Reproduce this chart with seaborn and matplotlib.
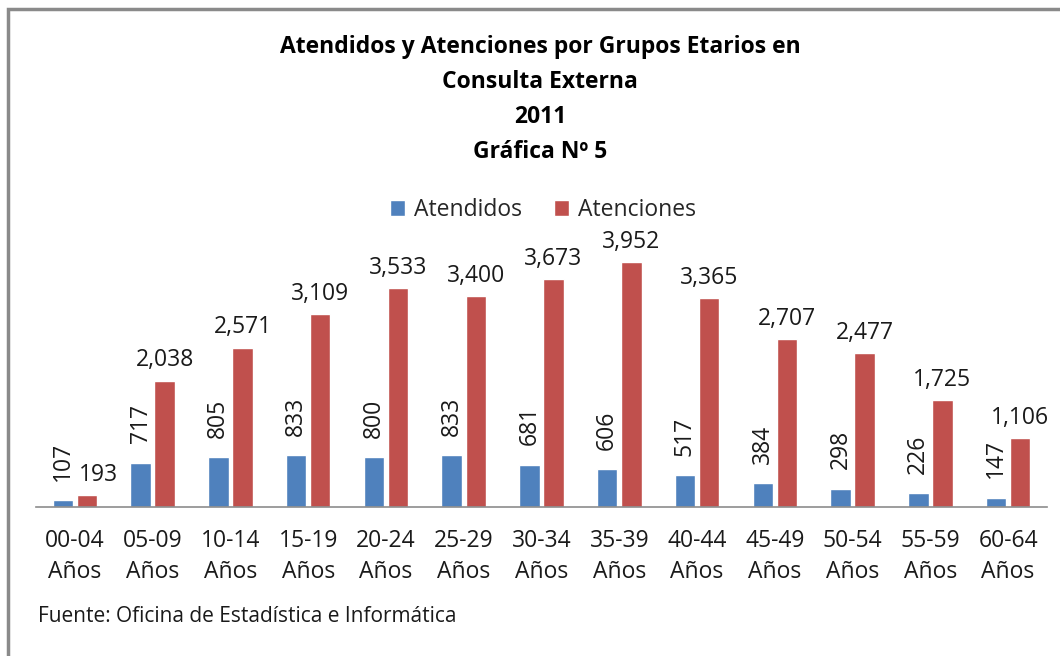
import pandas as pd
import numpy as np
import matplotlib.pyplot as plt
import seaborn as sns
from matplotlib.patches import Rectangle

# data
grupos = ['00-04\nAños', '05-09\nAños', '10-14\nAños', '15-19\nAños', '20-24\nAños',
          '25-29\nAños', '30-34\nAños', '35-39\nAños', '40-44\nAños', '45-49\nAños',
          '50-54\nAños', '55-59\nAños', '60-64\nAños']
atendidos = [107, 717, 805, 833, 800, 833, 681, 606, 517, 384, 298, 226, 147]
atenciones = [193, 2038, 2571, 3109, 3533, 3400, 3673, 3952, 3365, 2707, 2477, 1725, 1106]
series = ['Atendidos', 'Atenciones']
colores = ['#4F81BD', '#C0504D']

df = pd.DataFrame({
	'grupo': grupos * 2,
	'valor': atendidos + atenciones,
	'serie': [series[0]] * len(grupos) + [series[1]] * len(grupos),
})

sns.set_theme(style='white')
plt.rcParams['font.family'] = ['Open Sans', 'DejaVu Sans']

W, H = 1060, 656
fig = plt.figure(figsize=(W / 100, H / 100), dpi=100)
ax = fig.add_axes([36 / W, 1 - 507 / H, (1047 - 36) / W, (507 - 228) / H])

sns.barplot(data=df, x='grupo', y='valor', hue='serie', palette=colores,
			width=0.62, gap=0.15, ax=ax, legend=True, saturation=1)

ax.set_ylim(0, 4500)
ax.set_xlim(-0.5, len(grupos) - 0.5)
ax.set_xlabel('')
ax.set_ylabel('')
ax.set_yticks([])
for s in ['top', 'right', 'left']:
	ax.spines[s].set_visible(False)
ax.spines['bottom'].set_color('#8c8c8c')
ax.spines['bottom'].set_linewidth(1.2)
ax.tick_params(axis='x', length=0, pad=16, labelsize=16.5, colors='#1a1a1a')
for t in ax.get_xticklabels():
	t.set_linespacing(1.35)

# value labels
ax.bar_label(ax.containers[0], labels=[f'{v:,}' for v in atendidos],
			 rotation=90, padding=14, fontsize=16.5, color='#1a1a1a')
rojos = ax.bar_label(ax.containers[1], labels=[f'{v:,}' for v in atenciones],
					 padding=6, fontsize=16.5, color='#1a1a1a')
rojos[0].xyann = (8, 6)  # nudge first label clear of its neighbour, as in the original

# legend
handles, labels = ax.get_legend_handles_labels()
ax.get_legend().remove()
fig.legend(handles, labels, loc='center', bbox_to_anchor=(543 / W, 1 - 210 / H),
		   ncol=2, frameon=False, fontsize=16.5, handlelength=0.65, handleheight=0.65,
		   handletextpad=0.4, columnspacing=1.4)

# title
titulo = ['Atendidos y Atenciones por Grupos Etarios en', 'Consulta Externa', '2011', 'Gráfica Nº 5']
for i, linea in enumerate(titulo):
	fig.text(540 / W, 1 - (47 + i * 35) / H, linea, ha='center', va='center',
			 fontsize=16.5, fontweight='bold', color='#000000')

fig.text(38 / W, 1 - 617 / H, 'Fuente: Oficina de Estadística e Informática',
		 ha='left', va='center', fontsize=15, color='#1a1a1a')

# outer chart border
fig.patches.append(Rectangle((8 / W, -0.05), 1.1, 1 - 9 / H + 0.05, transform=fig.transFigure,
							 fill=False, edgecolor='#8a8a8a', linewidth=2.5))

fig.savefig('out.png', dpi=100)
